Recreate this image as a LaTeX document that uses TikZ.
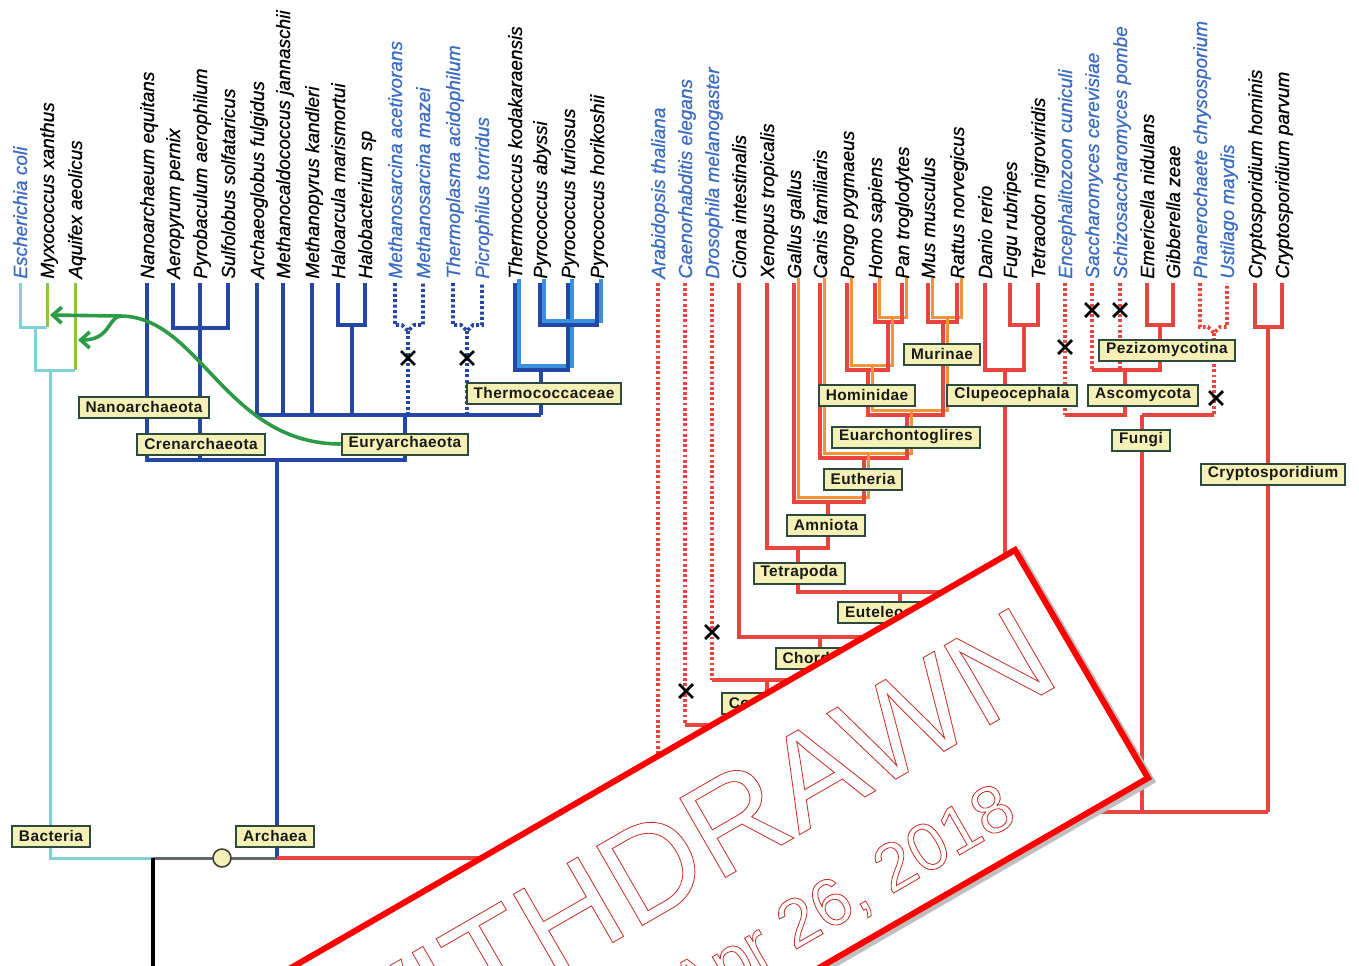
\documentclass[tikz,border=0pt]{standalone}
\usepackage{fontspec}
\setmainfont{Liberation Sans}
\newfontfamily\cladefont[LetterSpace=3]{Liberation Sans}
\newfontfamily\taxonfont[FakeBold=0.7]{Liberation Sans}
\usetikzlibrary{arrows.meta,shapes.misc}
\definecolor{bcyan}{HTML}{80D1D5}
\definecolor{bgreen}{HTML}{8CC63E}
\definecolor{ablue}{HTML}{2447A6}
\definecolor{lblue}{HTML}{3A92DC}
\definecolor{ered}{HTML}{E6463E}
\definecolor{eorange}{HTML}{F39237}
\definecolor{spblue}{HTML}{3B6CC0}
\definecolor{hgtgreen}{HTML}{2C9A47}
\definecolor{boxfill}{HTML}{F5F0B5}
\definecolor{boxline}{HTML}{2E4A3C}
\definecolor{rootgrey}{HTML}{5F6B6B}
\definecolor{stampred}{HTML}{FF0000}
\newcommand{\hollow}[1]{\special{pdf:literal direct 1 Tr 0.42 w 0.78 0.2 0.18 RG}#1\special{pdf:literal direct 0 Tr}}
\begin{document}
\begin{tikzpicture}[x=0.5pt,y=-0.5pt,
  taxon/.style={rotate=90,anchor=base west,inner sep=0pt,font=\taxonfont\fontsize{9.5}{11}\selectfont\itshape},
  clade/.style={draw=boxline,fill=boxfill,line width=1pt,text=black!90,font=\cladefont\bfseries\fontsize{7.7}{9}\selectfont,inner xsep=3.5pt,inner ysep=0pt,minimum height=10.5pt},
  bac/.style={draw=bcyan,line width=1.5pt},
  bacg/.style={draw=bgreen,line width=1.5pt},
  archl/.style={draw=ablue,line width=2pt},
  archdot/.style={archl,line width=1.8pt,dash pattern=on 1.5pt off 1.2pt},
  thermo/.style={archl,preaction={draw=lblue,line width=2pt,transform canvas={shift={(2pt,2pt)}}}},
  euk/.style={draw=ered,line width=1.6pt},
  eukdot/.style={euk,line width=1.8pt,dash pattern=on 1.4pt off 1.2pt},
  mam/.style={euk,preaction={draw=eorange,line width=1.6pt,transform canvas={shift={(2.4pt,2.4pt)}}}},
  lost/.style={cross out,draw=black,line width=1.4pt,minimum size=5.5pt,inner sep=0pt},
  transfer/.style={draw=hgtgreen,line width=1.8pt,-{Straight Barb[length=4.5pt,width=8pt]}}]
  \useasboundingbox (0,0) rectangle (1359,965);
  \clip (0,0) rectangle (1359,965);
  \fill[white] (0,0) rectangle (1359,965);

  % species names
  \foreach \x/\c/\t [count=\i] in {20/spblue/Escherichia coli,47/black/Myxococcus xanthus,75/black/Aquifex aeolicus}{
    \node[taxon,text=\c] (b\i) at (\x+7,279) {\t}; \coordinate (tb\i) at (\x,283);}
  \foreach \x/\c/\t [count=\i] in {147/black/Nanoarchaeum equitans,173/black/Aeropyrum pernix,200/black/Pyrobaculum aerophilum,
      228/black/Sulfolobus solfataricus,257/black/Archaeoglobus fulgidus,283/black/Methanocaldococcus jannaschii,
      312/black/Methanopyrus kandleri,338/black/Haloarcula marismortui,365/black/Halobacterium sp,
      395/spblue/Methanosarcina acetivorans,423/spblue/Methanosarcina mazei,453/spblue/Thermoplasma acidophilum,
      482/spblue/Picrophilus torridus,515/black/Thermococcus kodakaraensis,540/black/Pyrococcus abyssi,
      568/black/Pyrococcus furiosus,597/black/Pyrococcus horikoshii}{
    \node[taxon,text=\c] (a\i) at (\x+7,279) {\t}; \coordinate (ta\i) at (\x,283);}
  \foreach \x/\c/\t [count=\i] in {658/spblue/Arabidopsis thaliana,685/spblue/Caenorhabditis elegans,712/spblue/Drosophila melanogaster,
      739/black/Ciona intestinalis,767/black/Xenopus tropicalis,794/black/Gallus gallus,820/black/Canis familiaris,
      847/black/Pongo pygmaeus,875/black/Homo sapiens,902/black/Pan troglodytes,928/black/Mus musculus,
      957/black/Rattus norvegicus,985/black/Danio rerio,1010/black/Fugu rubripes,1038/black/Tetraodon nigroviridis,
      1065/spblue/Encephalitozoon cuniculi,1092/spblue/Saccharomyces cerevisiae,1120/spblue/Schizosaccharomyces pombe,
      1147/black/Emericella nidulans,1173/black/Gibberella zeae,1200/spblue/Phanerochaete chrysosporium,
      1227/spblue/Ustilago maydis,1255/black/Cryptosporidium hominis,1282/black/Cryptosporidium parvum}{
    \node[taxon,text=\c] (e\i) at (\x+7,279) {\t}; \coordinate (te\i) at (\x,283);}

  % bacteria
  \coordinate (bj1) at (35,327); \coordinate (bj2) at (50,370); \coordinate (root) at (153,858);
  \draw[bacg] (tb2) -- (tb2 |- bj1); \draw[bacg] (tb3) -- (tb3 |- bj2);
  \draw[bac] (tb1) |- (tb2 |- bj1); \draw[bac] (bj1) |- (tb3 |- bj2);
  \draw[bac] (bj2) |- (root);

  % archaea
  \coordinate (cren) at (200,328); \coordinate (arcroot) at (277,460); \coordinate (eury) at (405,415);
  \coordinate (halo) at (352,325); \coordinate (msar) at (408,331); \coordinate (tpla) at (467,331);
  \coordinate (thc) at (541,370); \coordinate (pyro) at (568,325);
  \draw[archl] (ta1) |- (eury |- arcroot) -- (eury);
  \draw[archl] (ta2) |- (cren) -| (ta4); \draw[archl] (ta3) -- (ta3 |- arcroot);
  \draw[archl] (ta5) |- (thc |- eury); \draw[archl] (thc) -- (thc |- eury);
  \draw[archl] (ta6) -- (ta6 |- eury); \draw[archl] (ta7) -- (ta7 |- eury);
  \draw[archl] (ta8) |- (halo) -| (ta9); \draw[archl] (halo) -- (halo |- eury);
  \draw[archdot] (ta10) |- ++(7,42) -- (msar) -- ++(6,-6) -| (ta11); \draw[archdot] (msar) -- (msar |- eury);
  \draw[archdot] (ta12) |- ++(8,42) -- (tpla) -- ++(6,-6) -| (ta13); \draw[archdot] (tpla) -- (tpla |- eury);
  \draw[thermo] (ta14) |- (thc) -| (ta16); \draw[thermo] (ta15) |- (pyro) -| (ta17);

  % root
  \draw[draw=rootgrey,line width=1.5pt] (root) -- (arcroot |- root);
  \draw[archl] (arcroot) -- (arcroot |- root);
  \draw[line width=2pt] (root) -- ++(0,110);

  % eukaryotes
  \coordinate (hp) at (888,322); \coordinate (hom) at (868,370); \coordinate (mur) at (943,322);
  \coordinate (eag) at (907,415); \coordinate (euth) at (864,458); \coordinate (amn) at (828,502);
  \coordinate (tet) at (798,548); \coordinate (eutel) at (900,592); \coordinate (chor) at (820,637);
  \coordinate (coel) at (767,680); \coordinate (bil) at (726,725); \coordinate (unik) at (692,770);
  \coordinate (ft) at (1024,325); \coordinate (clu) at (1005,370);
  \coordinate (pez) at (1160,325); \coordinate (asc) at (1125,370); \coordinate (fun) at (1142,415);
  \coordinate (basi) at (1214,333); \coordinate (cry) at (1268,327); \coordinate (ebase) at (900,812);
  \draw[euk] (arcroot |- root) -| (ebase);
  \draw[mam] (te9) |- (hp) -| (te10); \draw[mam] (te8) |- (hom) -| (hp);
  \draw[mam] (te11) |- (mur) -| (te12); \draw[mam] (hom) |- (eag) -| (mur);
  \draw[mam] (te7) |- (euth) -| (eag); \draw[mam] (te6) |- (amn) -| (euth);
  \draw[euk] (te5) |- (tet) -| (amn);
  \draw[euk] (te14) |- (ft) -| (te15); \draw[euk] (te13) |- (clu) -| (ft);
  \draw[euk] (tet) |- (eutel) -| (clu); \draw[euk] (te4) |- (chor) -| (eutel);
  \draw[eukdot] (te3) -- (te3 |- coel); \draw[euk] (te3 |- coel) -| (chor);
  \draw[eukdot] (te2) -- (te2 |- bil); \draw[euk] (te2 |- bil) -| (coel);
  \draw[eukdot] (te1) -- (te1 |- unik); \draw[euk] (te1 |- unik) -| (bil);
  \draw[euk] (unik) |- (cry |- ebase);
  \draw[euk] (te19) |- (pez) -| (te20);
  \draw[eukdot] (te17) -- (te17 |- asc); \draw[eukdot] (te18) -- (te18 |- asc);
  \draw[euk] (te17 |- asc) -| (pez);
  \draw[eukdot] (te16) -- (te16 |- fun);
  \draw[eukdot] (te21) |- ++(8,44) -- (basi) -- ++(6,-6) -| (te22); \draw[eukdot] (basi) -- (basi |- fun);
  \draw[euk] (te16 |- fun) -| (asc); \draw[euk] (fun) -- (basi |- fun);
  \draw[euk] (fun) -- (fun |- ebase);
  \draw[euk] (te23) |- (cry) -| (te24); \draw[euk] (cry) -- (cry |- ebase);

  \node[circle,draw=black!75,fill=boxfill,line width=0.8pt,minimum size=9pt,inner sep=0pt] (luca) at (222,858) {};

  % clade labels
  \node[clade] (bactlab) at (51,836) {Bacteria};
  \node[clade] (archlab) at (275,836) {Archaea};
  \node[clade] (nanolab) at (144,407) {Nanoarchaeota};
  \node[clade] (crenlab) at (201,444) {Crenarchaeota};
  \node[clade] (eurylab) at (405,444) {Euryarchaeota};
  \node[clade] (thclab) at (544,393) {Thermococcaceae};
  \node[clade] (murlab) at (942,354) {Murinae};
  \node[clade] (homlab) at (867,395) {Hominidae};
  \node[clade] (clulab) at (1012,395) {Clupeocephala};
  \node[clade] (eaglab) at (906,437) {Euarchontoglires};
  \node[clade] (euthlab) at (863,479) {Eutheria};
  \node[clade] (amnlab) at (826,525) {Amniota};
  \node[clade] (tetlab) at (799,573) {Tetrapoda};
  \node[clade] (eutellab) at (896,612) {Euteleostomi};
  \node[clade] (chorlab) at (818,658) {Chordata};
  \node[clade] (coellab) at (770,703) {Coelomata};
  \node[clade] (pezlab) at (1167,350) {Pezizomycotina};
  \node[clade] (asclab) at (1143,395) {Ascomycota};
  \node[clade] (funlab) at (1141,440) {Fungi};
  \node[clade] (crylab) at (1273,474) {Cryptosporidium};

  % gene transfer to bacteria
  \coordinate (hgt1) at (50,315); \coordinate (hgt2) at (78,340); \coordinate (fork) at (120,316);
  \draw[transfer] (eurylab.west) .. controls (225,444) and (200,316) .. (fork) -- (hgt1);
  \draw[transfer] (fork) .. controls (108,318) and (110,340) .. (hgt2);

  % losses
  \node[lost] (x1) at (408,358) {}; \node[lost] (x2) at (467,358) {};
  \node[lost] (x3) at (712,632) {}; \node[lost] (x4) at (686,691) {};
  \node[lost] (x5) at (1065,347) {}; \node[lost] (x6) at (1092,310) {};
  \node[lost] (x7) at (1120,310) {}; \node[lost] (x8) at (1216,398) {};

  % stamp
  \coordinate (s1) at (1015,550); \coordinate (s2) at (1148,778);
  \coordinate (s3) at (325,1253); \coordinate (s4) at (192,1025);
  \draw[gray!50,line width=3pt,transform canvas={shift={(2pt,-1.5pt)}}] (s1) -- (s2) -- (s3) -- (s4) -- cycle;
  \draw[stampred,line width=3pt,fill=white] (s1) -- (s2) -- (s3) -- (s4) -- cycle;
  \node[rotate=30,anchor=base east,inner sep=0pt,font=\fontsize{66.5}{70}\selectfont] (wd) at (1064,682) {\hollow{WITHDRAWN}};
  \node[rotate=30,anchor=base east,inner sep=0pt,font=\fontsize{33.5}{36}\selectfont] (wdate) at (1020,820) {\hollow{Apr 26, 2018}};
\end{tikzpicture}
\end{document}
